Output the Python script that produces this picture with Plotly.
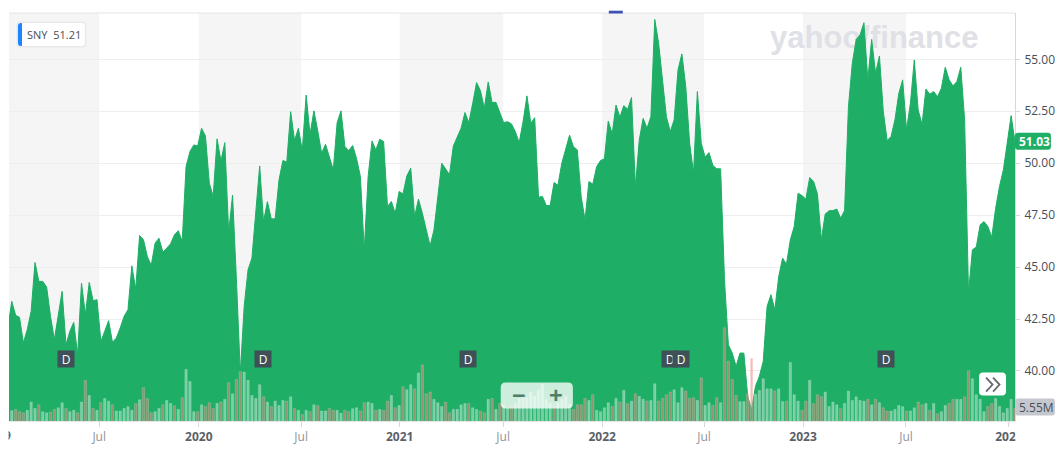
import pandas as pd
import plotly.graph_objects as go

# weekly closes, first value sits just left of the visible range
closes = [
    42.1, 43.35, 42.68, 42.58, 41.35, 41.99, 42.87, 45.22, 44.31, 44.31, 44.04,
    42.63, 41.51, 42.71, 43.83, 41.26, 41.91, 42.34, 40.78, 44.23, 42.71,
    44.26, 43.38, 43.43, 41.43, 41.91, 42.42, 41.38, 41.59, 42.07, 42.63,
    42.95, 45.06, 43.94, 46.52, 46.31, 45.51, 45.08, 46.15, 46.39, 45.72,
    45.91, 46.12, 46.55, 46.75, 46.23, 49.84, 50.56, 50.88, 50.83, 51.68,
    51.31, 49.04, 48.40, 51.17, 50.11, 50.99, 46.66, 48.46, 44.39, 39.90,
    43.11, 44.87, 45.43, 47.75, 49.87, 47.19, 48.15, 47.32, 47.32, 49.20,
    50.13, 50.05, 52.48, 51.09, 51.68, 50.61, 53.28, 51.39, 52.52, 51.55,
    50.48, 50.91, 50.32, 49.68, 51.95, 52.52, 50.80, 50.61, 50.85, 50.24,
    49.36, 45.83, 49.36, 51.07, 50.64, 51.15, 51.04, 47.91, 48.16, 47.59,
    48.64, 48.52, 49.39, 49.76, 47.43, 48.27, 47.59, 46.79, 46.02, 46.79,
    48.40, 50.00, 49.73, 49.44, 50.83, 51.28, 51.68, 52.44, 51.95, 52.88,
    53.88, 53.49, 52.64, 53.91, 52.92, 52.93, 52.40, 51.95, 52.00, 51.89,
    51.52, 50.99, 52.00, 53.24, 51.92, 52.19, 48.36, 48.40, 47.96, 47.96,
    49.07, 48.94, 50.00, 50.64, 51.35, 50.80, 50.64, 48.40, 47.27, 49.12,
    48.99, 49.84, 50.13, 50.21, 52.03, 51.41, 52.80, 52.21, 52.77, 52.60,
    53.16, 48.88, 51.12, 52.16, 51.68, 52.24, 56.92, 55.77, 54.01, 52.24,
    51.52, 52.08, 54.49, 55.26, 53.69, 50.96, 49.52, 53.45, 50.96, 50.29,
    50.51, 49.89, 49.73, 49.73, 44.39, 41.26, 40.86, 40.22, 40.86, 40.86,
    38.78, 38.14, 39.26, 39.74, 40.46, 43.11, 43.67, 42.95, 44.55, 45.43,
    45.14, 46.31, 46.95, 48.55, 48.44, 48.27, 49.31, 49.12, 48.52, 46.31,
    47.55, 47.71, 47.72, 47.79, 47.35, 47.72, 52.72, 54.81, 55.96, 56.17,
    56.76, 54.01, 55.96, 54.33, 55.16, 52.48, 51.09, 51.28, 52.08, 53.36,
    54.01, 51.60, 52.88, 54.97, 52.56, 51.87, 53.57, 53.32, 53.45, 53.20,
    53.61, 54.62, 54.01, 53.72, 53.93, 54.62, 52.08, 43.75, 45.83, 45.96,
    47.03, 47.19, 46.95, 46.44, 47.83, 48.88, 49.68, 51.12, 52.29, 51.03,
]

# weekly volume in millions, one bar per close after the first
volumes = [
    4.5, 5.1, 4.1, 3.6, 4.7, 8.3, 5.5, 7.1, 4.1, 3.6,
    3.9, 5.1, 5.8, 8.0, 5.5, 4.1, 4.7, 3.6, 8.3, 17.8,
    11.2, 5.5, 4.7, 8.0, 9.9, 8.7, 7.1, 4.4, 4.4, 5.5,
    6.3, 4.7, 7.6, 9.3, 14.6, 9.8, 3.6, 4.1, 5.5, 7.1,
    9.0, 7.7, 6.7, 5.1, 10.2, 22.6, 17.3, 4.1, 4.1, 7.1,
    6.3, 8.0, 5.5, 7.7, 8.3, 9.5, 16.8, 11.9, 18.2, 21.6,
    21.4, 17.8, 11.2, 9.9, 15.9, 10.6, 8.3, 6.3, 8.7, 6.8,
    9.0, 8.7, 10.6, 5.5, 4.7, 2.8, 4.7, 4.1, 7.1, 6.7,
    4.4, 4.4, 5.5, 4.7, 4.7, 3.4, 4.7, 4.1,
    5.4, 5.8, 4.4, 8.0, 8.3, 7.7, 4.7, 5.1, 4.7, 8.7,
    11.2, 5.8, 6.8, 15.0, 13.7, 15.9, 14.1, 21.0, 24.6, 11.9,
    12.7, 9.5, 8.0, 6.4, 8.3, 3.6, 5.1, 5.1, 7.1, 7.7,
    7.7, 5.8, 5.1, 4.4, 3.6, 9.5, 9.9, 5.1, 7.7, 7.1,
    5.8, 6.6, 7.7, 9.8, 10.2, 10.2, 12.7, 10.9, 13.8, 16.0,
    9.5, 7.7, 6.6, 8.0, 9.5, 10.9, 7.3, 5.1, 7.1, 7.1,
    9.9, 9.0, 11.5, 4.7, 4.1, 5.8, 8.0, 6.4, 9.9, 8.3,
    13.4, 7.6, 8.7, 11.9, 10.8, 9.5, 8.7, 9.0, 16.3, 8.7,
    9.9, 11.5, 12.7, 13.7, 8.0, 14.6, 13.1, 9.9, 10.2, 9.0,
    18.9, 6.8, 8.0, 6.8, 10.2, 8.0, 40.8, 26.1, 18.2, 11.2,
    8.5, 8.5, 11.9, 27.4, 11.7, 13.4, 18.5, 14.1, 14.1, 13.1,
    14.1, 8.5, 8.7, 25.6, 11.5, 8.7, 4.7, 8.7, 17.8, 7.6,
    11.5, 10.6, 12.7, 6.4, 8.3, 7.1, 5.4, 7.7, 13.1, 9.0,
    10.6, 9.0, 8.7, 9.5, 7.1, 9.5, 8.0, 5.8, 4.4, 4.4,
    5.1, 6.8, 6.3, 4.4, 4.4, 5.8, 8.3, 7.1, 7.7, 4.7,
    7.7, 3.2, 4.1, 6.8, 7.7, 9.5, 9.5, 9.5, 10.6, 22.0,
    18.5, 11.5, 9.5, 4.1, 6.4, 7.6, 9.9, 6.4, 3.6, 5.5,
    9.5, 5.55,
]

# u = up week, d = down week, same order as volumes
volume_dirs = (
    "uddduuuduu" "dduuduudud" "ududuuduuu" "uududdduud" "uududuuudu"
    "dddudududd" "uuuuududuu" "ududududud" "uudduudd"
    "uudduududd" "ududuududd" "duuudduuuu" "duuddududu" "uduuuuuuuu"
    "uuduuuuddd" "duduuuudud" "ududuuduud" "ddduuudddu"
    "duuddudddd" "uudduuuuud" "uuduuuddud" "dduuuuduuu" "uuudududdu"
    "uuuduuddud" "uduudduudd" "uuuudduuuu" "ud"
)

tick_dates = [
    "2019-07-05", "2020-01-01", "2020-07-04", "2020-12-29", "2021-07-04",
    "2021-12-30", "2022-07-02", "2022-12-28", "2023-07-02", "2024-01-04",
]
tick_labels = ["Jul", "2020", "Jul", "2021", "Jul", "2022", "Jul", "2023", "Jul", "2024"]
price_ticks = [40, 42.5, 45, 47.5, 50, 52.5, 55]
dividend_dates = ["2019-05-06", "2020-04-26", "2021-05-01", "2022-05-01", "2022-05-22", "2023-05-27"]

WIDTH, HEIGHT = 1064, 460
LEFT, RIGHT, TOP, BOTTOM = 9, 1017, 13, 421.5
GREEN = "#1eae66"
TEXT = "#464e56"
FONT = "Open Sans"


def px(x):
    return (x - LEFT) / (RIGHT - LEFT)


def py(y):
    return (BOTTOM - y) / (BOTTOM - TOP)


def rounded(x0, y0, x1, y1, r, fill, layer="above"):
    """Rounded box given in page pixels"""
    path = (
        f"M {px(x0 + r)} {py(y0)} L {px(x1 - r)} {py(y0)} Q {px(x1)} {py(y0)} {px(x1)} {py(y0 + r)} "
        f"L {px(x1)} {py(y1 - r)} Q {px(x1)} {py(y1)} {px(x1 - r)} {py(y1)} "
        f"L {px(x0 + r)} {py(y1)} Q {px(x0)} {py(y1)} {px(x0)} {py(y1 - r)} "
        f"L {px(x0)} {py(y0 + r)} Q {px(x0)} {py(y0)} {px(x0 + r)} {py(y0)} Z"
    )
    return dict(type="path", path=path, xref="paper", yref="paper", fillcolor=fill,
                line_width=0, layer=layer)


def chevron(x, y0, y1, w):
    path = f"M {px(x)} {py(y0)} L {px(x + w)} {py((y0 + y1) / 2)} L {px(x)} {py(y1)}"
    return dict(type="path", path=path, xref="paper", yref="paper",
                line=dict(color="#666a6e", width=1.8), layer="above")


def label(x, y, text, size=12, color=TEXT, xanchor="center", **kw):
    return dict(x=px(x), y=py(y), xref="paper", yref="paper", text=text, showarrow=False,
                xanchor=xanchor, yanchor="middle", font=dict(family=FONT, size=size, color=color), **kw)


dates = pd.date_range("2019-01-21", periods=len(closes), freq="7D")
x_start, x_end = "2019-01-23", "2024-01-15"

fig = go.Figure()
fig.add_trace(go.Scatter(x=dates, y=closes, mode="lines", fill="tozeroy", fillcolor=GREEN,
                         line=dict(color=GREEN, width=1), hoverinfo="skip"))
bar_colors = ["rgba(255,255,255,0.4)" if d == "u" else "rgba(240,130,120,0.55)" for d in volume_dirs]
fig.add_trace(go.Bar(x=dates[1:], y=volumes, yaxis="y2",
                     marker=dict(color=bar_colors, line=dict(color="rgba(255,255,255,0.35)", width=0.5)),
                     hoverinfo="skip"))

# half-year bands, every other period starting from the left edge
band_edges = [x_start] + tick_dates
shapes = [
    dict(type="rect", xref="x", yref="paper", x0=band_edges[i], x1=band_edges[i + 1], y0=0, y1=1,
         fillcolor="#f5f5f5", line_width=0, layer="below")
    for i in range(0, 10, 2)
]
# watermark goes behind the area
shapes.append(dict(type="rect", xref="paper", yref="paper", x0=px(770), x1=px(982), y0=py(50), y1=py(20),
                   line_width=0, layer="between",
                   label=dict(text="<b>yahoo/finance</b>", textposition="middle center",
                              font=dict(family="Liberation Sans", size=31, color="#dfe1e6"))))
shapes += [
    dict(type="line", xref="paper", yref="paper", x0=0, x1=1, y0=1, y1=1,
         line=dict(color="#e4e4e4", width=1), layer="above"),
    dict(type="rect", xref="paper", yref="paper", x0=px(610), x1=px(624), y0=py(13.5), y1=py(10.7),
         fillcolor="#3f51b5", line_width=0, layer="above"),
    dict(type="rect", xref="paper", yref="paper", x0=px(RIGHT + 0.5), x1=px(WIDTH), y0=py(HEIGHT), y1=py(BOTTOM + 0.5),
         fillcolor="white", line_width=0, layer="above"),
    rounded(16.5, 21.5, 86.5, 47.5, 4, "rgba(0,0,0,0.05)"),
    rounded(18, 23, 85, 46, 3, "white"),
    rounded(18, 23, 24, 46, 3, "#1a85ff"),
    dict(type="rect", xref="paper", yref="paper", x0=px(22), x1=px(24), y0=py(46), y1=py(23),
         fillcolor="white", line_width=0, layer="above"),
    rounded(1017, 133, 1053, 150, 3, GREEN),
    rounded(1017, 399, 1057, 416, 3, "#c5c7cf"),
    rounded(501.7, 383, 574, 409, 5, "rgba(255,255,255,0.78)"),
    rounded(981, 373, 1008, 396, 4, "white"),
    chevron(988, 378, 392, 6.5),
    chevron(995, 378, 392, 6.5),
]

annotations = [
    label(25, 34.5, "SNY&nbsp;&nbsp;51.21", size=11, xanchor="left"),
    label(1036.5, 141.5, "<b>51.03</b>", color="white"),
    label(1039, 408, "5.55M"),
    label(520, 395, "<b>−</b>", size=24, color="#4f7f6a"),
    label(557, 395, "<b>+</b>", size=24, color="#4f7f6a"),
    # only the tail of the 2019 label shows at the left edge
    label(7, 435.7, "<b>9</b>", color="#5b6168"),
    label(3.5, 435.7, " ", width=9, height=18, bgcolor="white", borderpad=0),
]
for d in dividend_dates:
    annotations.append(dict(x=d, y=py(359), xref="x", yref="paper", text="D", showarrow=False,
                            xanchor="center", yanchor="middle", width=16, height=16, borderpad=0,
                            bgcolor="#3f5056", font=dict(family=FONT, size=12, color="white")))

tick_text = [
    f"<b>{t}</b>" if t != "Jul" else f'<span style="color:#8f949a">{t}</span>'
    for t in tick_labels
]

fig.update_layout(
    width=WIDTH,
    height=HEIGHT,
    margin=dict(l=LEFT, r=WIDTH - RIGHT, t=TOP, b=HEIGHT - BOTTOM, pad=0),
    paper_bgcolor="white",
    plot_bgcolor="white",
    showlegend=False,
    bargap=0.38,
    shapes=shapes,
    annotations=annotations,
    font=dict(family=FONT, size=12, color=TEXT),
    xaxis=dict(type="date", range=[x_start, x_end], tickmode="array", tickvals=tick_dates, ticktext=tick_text,
               showgrid=False, showline=True, linecolor="#e4e4e4", ticks="outside", ticklen=5,
               tickcolor="#d8d8d8", zeroline=False, tickangle=0, tickfont=dict(color="#5b6168")),
    yaxis=dict(range=[37.59, 57.23], side="right", tickmode="array", tickvals=price_ticks, tickformat=".2f",
               gridcolor="#eeeeee", showline=True, linecolor="#d8d8d8", ticks="outside", ticklen=4,
               tickcolor="#d8d8d8", zeroline=False, ticklabelstandoff=2),
    yaxis2=dict(range=[0, 178.5], overlaying="y", visible=False),
)

fig.write_html("out.html", config=dict(displayModeBar=False),
               post_script="document.body.style.margin='0'")
